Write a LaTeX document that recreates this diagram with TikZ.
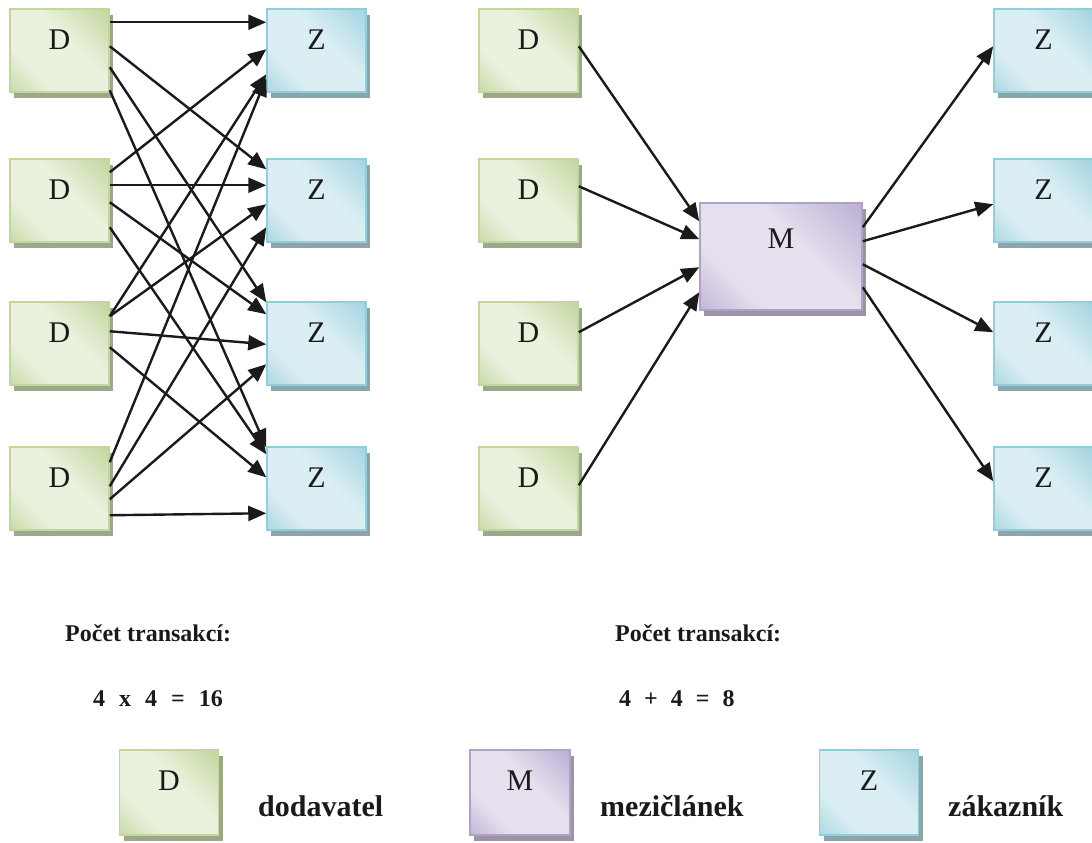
\documentclass[tikz,border=0pt]{standalone}
\usepackage{fontspec}
\setmainfont{Liberation Serif}
\usetikzlibrary{shadows,arrows.meta,calc}
\definecolor{gborder}{HTML}{C3D69B}
\definecolor{gdark}{HTML}{ADC77E}
\definecolor{gpale}{HTML}{EAF1DC}
\definecolor{gshadow}{HTML}{9DA78C}
\definecolor{bborder}{HTML}{92CDDC}
\definecolor{bdark}{HTML}{86C6D8}
\definecolor{bpale}{HTML}{DAEEF3}
\definecolor{bshadow}{HTML}{8CA4AA}
\definecolor{pborder}{HTML}{B2A1C7}
\definecolor{pdark}{HTML}{A594C6}
\definecolor{ppale}{HTML}{E6E0EE}
\definecolor{pshadow}{HTML}{9A94A5}
\definecolor{ink}{HTML}{1A1A1A}
\pgfdeclareverticalshading{gshade}{100bp}{color(0bp)=(gdark); color(32bp)=(gpale); color(58bp)=(gpale); color(100bp)=(gdark)}
\pgfdeclareverticalshading{bshade}{100bp}{color(0bp)=(bdark); color(32bp)=(bpale); color(58bp)=(bpale); color(100bp)=(bdark)}
\pgfdeclareverticalshading{pshade}{100bp}{color(0bp)=(pdark); color(32bp)=(ppale); color(58bp)=(ppale); color(100bp)=(pdark)}
\tikzset{
  box/.style={rectangle, inner sep=0pt, line width=1.5pt, shading angle=-45,
    font=\fontsize{30}{36}\selectfont, text=ink, minimum width=99pt,
    text height=40pt, text depth=43pt, minimum height=83pt},
  dbox/.style={box, draw=gborder, shading=gshade,
    drop shadow={shadow xshift=4pt, shadow yshift=-6pt, fill=gshadow, opacity=1}},
  zbox/.style={box, draw=bborder, shading=bshade,
    drop shadow={shadow xshift=4pt, shadow yshift=-6pt, fill=bshadow, opacity=1}},
  mbox/.style={box, draw=pborder, shading=pshade,
    drop shadow={shadow xshift=4pt, shadow yshift=-6pt, fill=pshadow, opacity=1}},
  legbox/.style={text depth=45pt, minimum height=85pt},
  arr/.style={draw=ink, line width=2.4pt, -{Triangle[length=18pt,width=15pt]}},
  lbl/.style={font=\fontsize{24}{28}\selectfont\bfseries, text=ink, inner sep=0pt, anchor=base west},
  leglbl/.style={lbl, font=\fontsize{30}{35}\selectfont\bfseries}
}
\begin{document}
\begin{tikzpicture}[x=1pt,y=-1pt]
\useasboundingbox (0,0) rectangle (1092,843);
% left part
\node[dbox] (d1) at (59.5,50.5) {D};
\node[dbox] (d2) at (59.5,200.5) {D};
\node[dbox] (d3) at (59.5,343.5) {D};
\node[dbox] (d4) at (59.5,488.5) {D};
\node[zbox] (z1) at (316.5,50.5) {Z};
\node[zbox] (z2) at (316.5,200.5) {Z};
\node[zbox] (z3) at (316.5,343.5) {Z};
\node[zbox] (z4) at (316.5,488.5) {Z};
% D1
\draw[arr] ([yshift=-14pt]d1.north east) -- ([yshift=-14pt]z1.north west);
\draw[arr] ([yshift=-38pt]d1.north east) -- ([yshift=-11pt]z2.north west);
\draw[arr] ([yshift=-59pt]d1.north east) -- ([yshift=-1pt]z3.north west);
\draw[arr] ([yshift=-82pt]d1.north east) -- ([yshift=-1pt]z4.north west);
% D2
\draw[arr] ([yshift=-14pt]d2.north east) -- ([yshift=-41pt]z1.north west);
\draw[arr] ([yshift=-27pt]d2.north east) -- ([yshift=-27pt]z2.north west);
\draw[arr] ([yshift=-44pt]d2.north east) -- ([yshift=-13pt]z3.north west);
\draw[arr] ([yshift=-69pt]d2.north east) -- ([yshift=-8pt]z4.north west);
% D3
\draw[arr] ([yshift=-15pt]d3.north east) -- ([yshift=-66pt]z1.north west);
\draw[arr] ([yshift=-15pt]d3.north east) -- ([yshift=-46pt]z2.north west);
\draw[arr] ([yshift=-30pt]d3.north east) -- ([yshift=-43pt]z3.north west);
\draw[arr] ([yshift=-46pt]d3.north east) -- ([yshift=-31pt]z4.north west);
% D4
\draw[arr] ([yshift=-16pt]d4.north east) -- ([yshift=-70pt]z1.north west);
\draw[arr] ([yshift=-40pt]d4.north east) -- ([yshift=-69pt]z2.north west);
\draw[arr] ([yshift=-53pt]d4.north east) -- ([yshift=-63pt]z3.north west);
\draw[arr] ([yshift=-69pt]d4.north east) -- ([yshift=-67pt]z4.north west);
% right part
\node[dbox] (rd1) at (528.5,50.5) {D};
\node[dbox] (rd2) at (528.5,200.5) {D};
\node[dbox] (rd3) at (528.5,343.5) {D};
\node[dbox] (rd4) at (528.5,488.5) {D};
\node[mbox, minimum width=162pt, minimum height=107pt, text height=45pt, text depth=62pt] (m) at (781,256.5) {M};
\node[zbox] (rz1) at (1043.5,50.5) {Z};
\node[zbox] (rz2) at (1043.5,200.5) {Z};
\node[zbox] (rz3) at (1043.5,343.5) {Z};
\node[zbox] (rz4) at (1043.5,488.5) {Z};
\draw[arr] ([yshift=-38pt]rd1.north east) -- ([yshift=-19pt]m.north west);
\draw[arr] ([yshift=-28pt]rd2.north east) -- ([yshift=-37pt]m.north west);
\draw[arr] ([yshift=-31pt]rd3.north east) -- ([yshift=-65pt]m.north west);
\draw[arr] ([yshift=-39pt]rd4.north east) -- ([yshift=-90pt]m.north west);
\draw[arr] ([yshift=-25pt]m.north east) -- ([yshift=-38pt]rz1.north west);
\draw[arr] ([yshift=-39pt]m.north east) -- ([yshift=-46pt]rz2.north west);
\draw[arr] ([yshift=-62pt]m.north east) -- ([yshift=-31pt]rz3.north west);
\draw[arr] ([yshift=-85pt]m.north east) -- ([yshift=-35pt]rz4.north west);
% texts
\node[lbl] (t1) at (65,641) {Počet transakcí:};
\node[lbl] (t2) at (93,706) {4\hspace{14pt}x\hspace{14pt}4\hspace{14pt}=\hspace{14pt}16};
\node[lbl] (t3) at (615,641) {Počet transakcí:};
\node[lbl] (t4) at (619,706) {4\hspace{13pt}+\hspace{13pt}4\hspace{13pt}=\hspace{13pt}8};
% legend
\node[dbox, legbox] (ld) at (169,792.5) {D};
\node[mbox, legbox, minimum width=100pt] (lm) at (520,792.5) {M};
\node[zbox, legbox] (lz) at (869,792.5) {Z};
\node[leglbl] (ldt) at (258,816) {dodavatel};
\node[leglbl] (lmt) at (600,816) {mezičlánek};
\node[leglbl] (lzt) at (948,816) {zákazník};
\end{tikzpicture}
\end{document}
